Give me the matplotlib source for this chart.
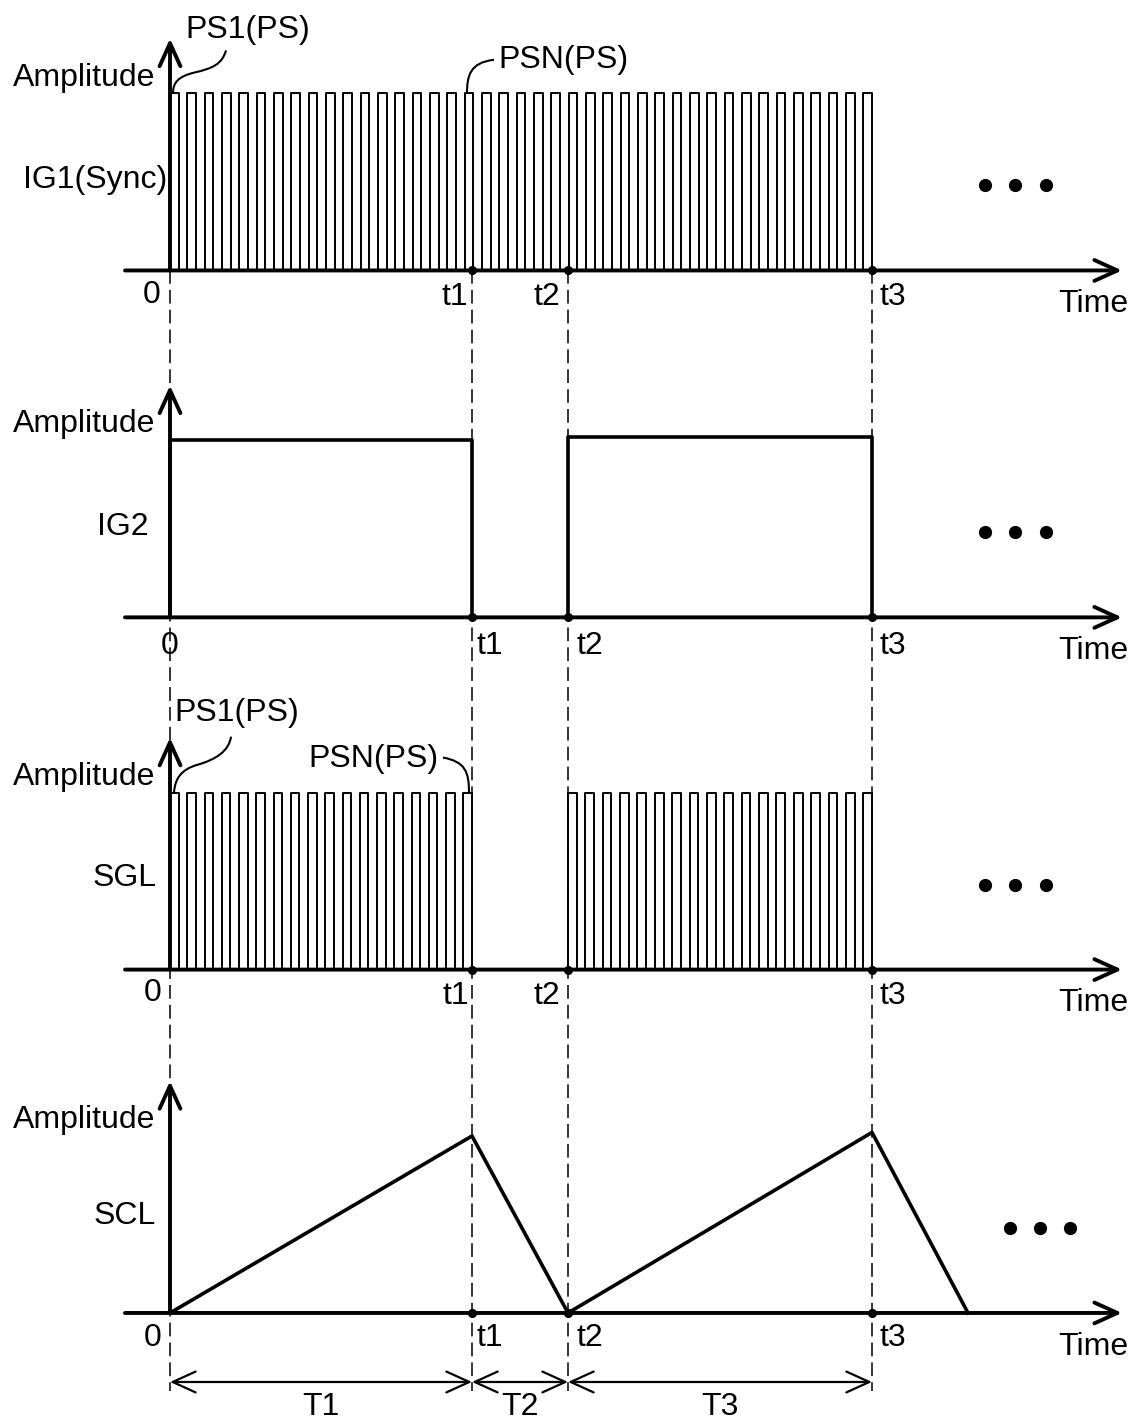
from matplotlib import pyplot as plt
from matplotlib.path import Path
from matplotlib.patches import PathPatch
import numpy as np

plt.rcParams['font.family'] = ['Liberation Sans', 'DejaVu Sans']

# time marks (1 unit ~ 100 px)
t1, t2, t3 = 3.02, 3.98, 7.02
scl_end = 7.98

# pulse counts in each burst
ig1_pulses = 41
sgl_pulses_a = 18
sgl_pulses_b = 18

ig2_high = [1.0, 1.02]
scl_peaks = [1.0, 1.02]

signal_names = ['IG1(Sync)', 'IG2', 'SGL', 'SCL']
offsets = [5.89, 3.93, 1.94, 0.0]   # baseline of each panel


def pulse_train(start, end, n, high=1.0):
    p = (end - start) / (n - 0.5)
    xs, ys = [], []
    for i in range(n):
        r = start + i * p
        xs += [r, r, r + p / 2, r + p / 2]
        ys += [0, high, high, 0]
    return np.array(xs), np.array(ys)


def leader(ax, pts, off):
    codes = [Path.MOVETO] + [Path.CURVE4] * (len(pts) - 1)
    verts = [(x, y + off) for x, y in pts]
    ax.add_patch(PathPatch(Path(verts, codes), fc='none', ec='k', lw=1.5))


def arrow(ax, x0, y0, x1, y1, style='->', lw=2.8):
    ax.annotate('', xy=(x1, y1), xytext=(x0, y0),
                arrowprops=dict(arrowstyle=style + ',head_length=0.55,head_width=0.25',
                                lw=lw, color='k', shrinkA=0, shrinkB=0,
                                mutation_scale=30))


fig = plt.figure(figsize=(11.34, 14.25), dpi=100)
ax = fig.add_axes([0, 0, 1, 1])
ax.set_xlim(-1.70, 9.64)
ax.set_ylim(-0.633, 7.418)
ax.axis('off')

fs = 23
lab = dict(fontsize=fs, ha='center', va='center')

# dashed guide lines
for tx in [0, t1, t2, t3]:
    ax.plot([tx, tx], [offsets[0], -0.44], color='k', lw=1.1, dashes=(9, 4), zorder=1)

# axes for each panel
for k, off in enumerate(offsets):
    arrow(ax, -0.45, off, 9.52, off)
    arrow(ax, 0, off, 0, off + 1.31)
    ax.text(-0.86, off + 1.09, 'Amplitude', **lab)
    ax.text(9.23, off - 0.19, 'Time', **lab)
    ax.plot([8.15, 8.45, 8.76] if k < 3 else [8.40, 8.70, 9.00], [off + 0.48] * 3,
            'o', color='k', ms=8.5, zorder=3)
    ax.plot([t1, t2, t3], [off] * 3, 'o', color='k', ms=5.5, zorder=3)

# panel 1: IG1
off = offsets[0]
x, y = pulse_train(0, t3, ig1_pulses)
ax.plot(x, y + off, color='k', lw=1.4)
ax.text(-0.75, off + 0.51, signal_names[0], **lab)
ax.text(-0.18, off - 0.14, '0', **lab)
ax.text(2.85, off - 0.15, 't1', **lab)
ax.text(3.77, off - 0.15, 't2', **lab)
ax.text(7.23, off - 0.15, 't3', **lab)
ax.text(0.78, off + 1.36, 'PS1(PS)', **lab)
ax.text(3.93, off + 1.19, 'PSN(PS)', **lab)
leader(ax, [(0.56, 1.243), (0.52, 1.164), (0.42, 1.141), (0.25, 1.119),
            (0.08, 1.096), (0.03, 1.062), (0.03, 1.0)], off)
leader(ax, [(3.24, 1.19), (3.00, 1.175), (2.97, 1.10), (2.97, 1.0)], off)

# panel 2: IG2
off = offsets[1]
ax.plot([0, 0, t1, t1], np.array([0, ig2_high[0], ig2_high[0], 0]) + off, color='k', lw=2.6)
ax.plot([t2, t2, t3, t3], np.array([0, ig2_high[1], ig2_high[1], 0]) + off, color='k', lw=2.6)
ax.text(-0.47, off + 0.51, signal_names[1], **lab)
ax.text(0.0, off - 0.16, '0', **lab)
ax.text(3.20, off - 0.16, 't1', **lab)
ax.text(4.20, off - 0.16, 't2', **lab)
ax.text(7.23, off - 0.16, 't3', **lab)

# panel 3: SGL
off = offsets[2]
for a, b, n in [(0, t1, sgl_pulses_a), (t2, t3, sgl_pulses_b)]:
    x, y = pulse_train(a, b, n)
    ax.plot(x, y + off, color='k', lw=1.4)
ax.text(-0.45, off + 0.52, signal_names[2], **lab)
ax.text(-0.17, off - 0.13, '0', **lab)
ax.text(2.86, off - 0.15, 't1', **lab)
ax.text(3.77, off - 0.15, 't2', **lab)
ax.text(7.23, off - 0.15, 't3', **lab)
ax.text(0.67, off + 1.45, 'PS1(PS)', **lab)
ax.text(2.03, off + 1.19, 'PSN(PS)', **lab)
leader(ax, [(0.61, 1.316), (0.59, 1.232), (0.45, 1.186), (0.28, 1.158),
            (0.10, 1.130), (0.05, 1.073), (0.04, 1.0)], off)
leader(ax, [(2.73, 1.198), (2.95, 1.175), (2.99, 1.119), (2.99, 1.0)], off)

# panel 4: SCL
off = offsets[3]
ax.plot([0, t1, t2, t3, scl_end], np.array([0, scl_peaks[0], 0, scl_peaks[1], 0]) + off,
        color='k', lw=2.6)
ax.text(-0.45, off + 0.55, signal_names[3], **lab)
ax.text(-0.17, off - 0.14, '0', **lab)
ax.text(3.20, off - 0.14, 't1', **lab)
ax.text(4.20, off - 0.14, 't2', **lab)
ax.text(7.23, off - 0.14, 't3', **lab)

# interval arrows
bounds = [0, t1, t2, t3]
for i, name in enumerate(['T1', 'T2', 'T3']):
    arrow(ax, bounds[i], -0.39, bounds[i + 1], -0.39, style='<->', lw=1.6)
    ax.text((bounds[i] + bounds[i + 1]) / 2, -0.53, name, **lab)

fig.savefig('out.png', dpi=100)
